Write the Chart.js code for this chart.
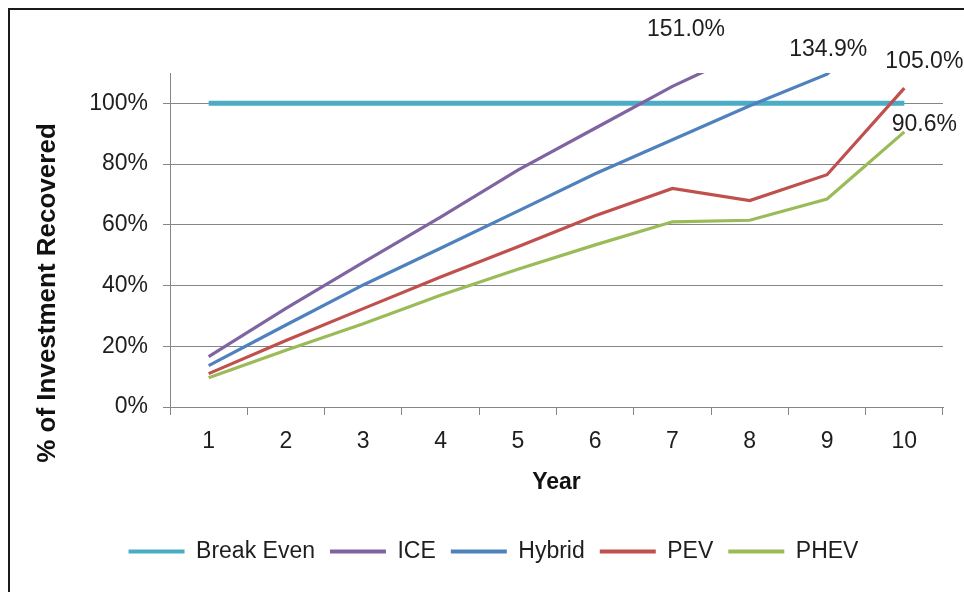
<!DOCTYPE html>
<html>
<head>
<meta charset="utf-8">
<script src="https://cdn.jsdelivr.net/npm/chart.js@4.4.1/dist/chart.umd.min.js"></script>
<style>
html, body { margin: 0; padding: 0; background: #fff; overflow: hidden; }
#wrap { position: relative; width: 964px; height: 592px; }
#frame { position: absolute; left: 8px; top: 8px; width: 1000px; height: 700px; border: 2px solid #1a1a1a; box-sizing: border-box; pointer-events: none; }
</style>
</head>
<body>
<div id="wrap"><canvas id="chart"></canvas><div id="frame"></div></div>
<script>
// data (% of investment recovered per year)
const years = ['1', '2', '3', '4', '5', '6', '7', '8', '9', '10'];
const breakEven = [100, 100, 100, 100, 100, 100, 100, 100, 100, 100];
const ice = [16.6, 32.5, 47.6, 62.5, 78.0, 91.8, 105.6, 117.5, 131.0, 151.0];
const hybrid = [13.6, 27.0, 40.2, 52.3, 64.5, 76.8, 88.0, 99.2, 109.6, 134.9];
const pev = [11.0, 21.9, 32.4, 42.8, 52.8, 63.0, 72.0, 68.0, 76.5, 105.0];
const phev = [9.6, 18.7, 27.4, 36.8, 45.4, 53.4, 61.0, 61.5, 68.5, 90.6];
const yTicks = [0, 20, 40, 60, 80, 100];
const yTitleText = '% of Investment Recovered';

const FONT = '"Liberation Sans", Arial, sans-serif';
const TXT = '#1e1e1e';
const GRID = '#868686';

// labels with the year-10 value, placed like in the original
const endLabels = {
    id: 'endLabels',
    afterDatasetsDraw(chart) {
        const { ctx, chartArea, scales: { x, y } } = chart;
        ctx.save();
        ctx.font = '23px ' + FONT;
        ctx.fillStyle = TXT;
        ctx.textAlign = 'center';
        ctx.textBaseline = 'middle';
        chart.data.datasets.forEach(ds => {
            if (!ds.endLabel) return;
            const n = ds.data.length - 1;
            const v = ds.data[n];
            let px = x.getPixelForValue(n);
            let py = y.getPixelForValue(v);
            if (v > y.max) {
                // where the line leaves the top of the plot
                for (let i = 1; i <= n; i++) {
                    if (ds.data[i] > y.max) {
                        const a = ds.data[i - 1], b = ds.data[i];
                        const t = (y.max - a) / (b - a);
                        const x0 = x.getPixelForValue(i - 1), x1 = x.getPixelForValue(i);
                        px = x0 + t * (x1 - x0);
                        break;
                    }
                }
                py = chartArea.top;
            }
            ctx.fillText(v.toFixed(1) + '%', px + ds.endLabel.dx, py + ds.endLabel.dy);
        });
        ctx.restore();
    }
};

// y axis title sits lower than the axis centre, so draw it by hand
const yTitle = {
    id: 'yTitle',
    afterDraw(chart) {
        const { ctx, chartArea } = chart;
        ctx.save();
        ctx.translate(chartArea.left - 122, chartArea.bottom - 114);
        ctx.rotate(-Math.PI / 2);
        ctx.font = 'bold 26px ' + FONT;
        ctx.fillStyle = '#111';
        ctx.textAlign = 'center';
        ctx.textBaseline = 'middle';
        ctx.fillText(yTitleText, 0, 0);
        ctx.restore();
    }
};

function line(label, data, color, width, order, endLabel) {
    return {
        label: label,
        data: data,
        borderColor: color,
        backgroundColor: color,
        borderWidth: width,
        pointRadius: 0,
        pointHoverRadius: 0,
        tension: 0,
        clip: 0,
        order: order,
        endLabel: endLabel
    };
}

new Chart(document.getElementById('chart'), {
    type: 'line',
    data: {
        labels: years,
        datasets: [
            line('Break Even', breakEven, '#4BACC6', 5, 5, null),
            line('ICE', ice, '#8064A2', 3.2, 4, { dx: -15, dy: -43 }),
            line('Hybrid', hybrid, '#4F81BD', 3.2, 3, { dx: 0, dy: -23 }),
            line('PEV', pev, '#C0504D', 3.2, 2, { dx: 20, dy: -27 }),
            line('PHEV', phev, '#9BBB59', 3.2, 1, { dx: 20, dy: -7 })
        ]
    },
    options: {
        responsive: true,
        maintainAspectRatio: false,
        animation: false,
        devicePixelRatio: 1,
        layout: { padding: { top: 73, right: 21, bottom: 19, left: 44 } },
        scales: {
            x: {
                offset: true,
                grid: { offset: true, drawOnChartArea: false, tickLength: 8, color: GRID },
                border: { color: GRID },
                ticks: { color: TXT, font: { family: FONT, size: 23 }, padding: 13, maxRotation: 0 },
                title: { display: true, text: 'Year', color: '#111', font: { family: FONT, size: 23, weight: 'bold' }, padding: { top: 0, bottom: 29 } },
                afterFit: s => { s.height = 118; }
            },
            y: {
                min: 0,
                max: 110,
                afterBuildTicks: s => { s.ticks = yTicks.map(v => ({ value: v })); },
                grid: { color: GRID, tickLength: 7 },
                border: { color: GRID },
                ticks: { color: TXT, font: { family: FONT, size: 23 }, padding: 15, callback: v => v + '%' },
                afterFit: s => { s.width = 126; }
            }
        },
        plugins: {
            legend: {
                position: 'bottom',
                reverse: true,
                labels: {
                    color: TXT,
                    font: { family: FONT, size: 23 },
                    boxWidth: 56,
                    boxHeight: 4,
                    padding: 15,
                    generateLabels: chart => Chart.defaults.plugins.legend.labels.generateLabels(chart).map(it => {
                        it.fillStyle = it.strokeStyle;
                        it.lineWidth = 0;
                        return it;
                    })
                }
            },
            tooltip: { enabled: false }
        }
    },
    plugins: [endLabels, yTitle]
});
</script>
</body>
</html>
